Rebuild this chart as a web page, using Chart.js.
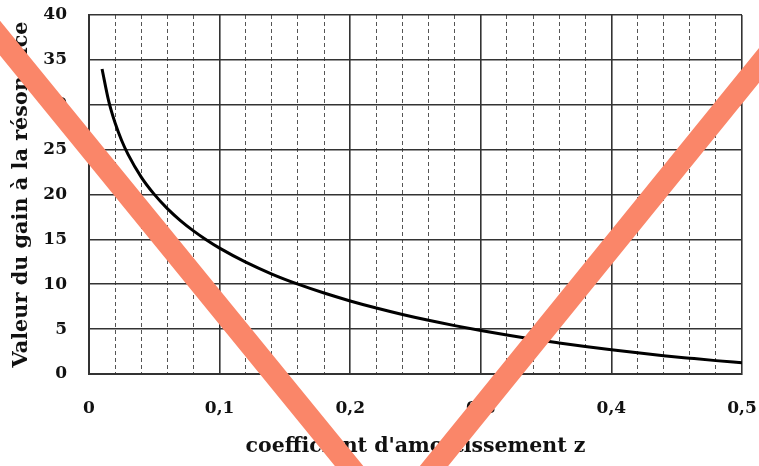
<!DOCTYPE html>
<html>
<head>
<meta charset="utf-8">
<script src="https://cdn.jsdelivr.net/npm/chart.js@4.4.1/dist/chart.umd.min.js"></script>
<style>
  html, body { margin: 0; padding: 0; background: #fff; }
  #wrap { width: 759px; height: 466px; }
</style>
</head>
<body>
<div id="wrap"><canvas id="gainChart"></canvas></div>
<script>
// ── Data ─────────────────────────────────────────────────────
const zValues = [0.01, 0.015, 0.02, 0.025, 0.03, 0.04, 0.05, 0.06, 0.07, 0.08, 0.09, 0.10,
                 0.12, 0.14, 0.16, 0.18, 0.20, 0.22, 0.24, 0.26, 0.28, 0.30,
                 0.32, 0.34, 0.36, 0.38, 0.40, 0.42, 0.44, 0.46, 0.48, 0.50];
const gainValues = [33.98, 30.46, 27.96, 26.02, 24.44, 21.94, 20.01, 18.43, 17.10, 15.95, 14.93, 14.02,
                    12.46, 11.14, 10.01, 9.02, 8.14, 7.35, 6.63, 5.98, 5.39, 4.85,
                    4.35, 3.88, 3.46, 3.06, 2.70, 2.36, 2.04, 1.76, 1.49, 1.25];
const xTickLabels = ['0', '0,1', '0,2', '0,3', '0,4', '0,5'];
const yTickLabels = ['0', '5', '10', '15', '20', '25', '30', '35', '40'];

const FONT = "'DejaVu Serif', serif";
const GRID_DARK = '#333';

// ── helpers ──────────────────────────────────────────────────
function isMajor(v) {
    return Math.abs(v * 10 - Math.round(v * 10)) < 1e-6;
}

// big coral cross drawn over the picture
const crossPlugin = {
    id: 'cross',
    afterDraw(chart) {
        const c = chart.ctx;
        const w = chart.width, h = chart.height;
        c.save();
        c.strokeStyle = '#FA8669';
        c.lineWidth = 22;
        c.lineCap = 'butt';
        c.beginPath();
        c.moveTo(-0.026 * w, 0.03 * h);
        c.lineTo(0.50 * w, 1.08 * h);
        c.moveTo(1.03 * w, 0.08 * h);
        c.lineTo(0.527 * w, 1.09 * h);
        c.stroke();
        c.restore();
    }
};

const ctx = document.getElementById('gainChart').getContext('2d');
new Chart(ctx, {
    type: 'line',
    data: {
        datasets: [{
            data: zValues.map((z, i) => ({ x: z, y: gainValues[i] })),
            borderColor: '#000',
            borderWidth: 3,
            pointRadius: 0,
            fill: false,
            cubicInterpolationMode: 'monotone',
            xAxisID: 'x',
            yAxisID: 'y'
        }]
    },
    options: {
        responsive: true,
        maintainAspectRatio: false,
        animation: false,
        layout: { padding: { top: 15, right: 17, left: 0, bottom: 0 } },
        plugins: { legend: { display: false }, tooltip: { enabled: false } },
        scales: {
            x: {
                type: 'linear',
                position: 'bottom',
                min: 0,
                max: 0.5,
                ticks: {
                    stepSize: 0.1,
                    padding: 24,
                    color: '#111',
                    font: { family: FONT, size: 17, weight: 'bold' },
                    callback: (v) => xTickLabels[Math.round(v * 10)] ?? ''
                },
                grid: { color: GRID_DARK, lineWidth: 1.6, drawTicks: false },
                border: { display: true, color: GRID_DARK, width: 2 },
                title: {
                    display: true,
                    text: "coefficient d'amortissement z",
                    color: '#111',
                    font: { family: FONT, size: 20.5, weight: 'bold' },
                    padding: { top: 0, bottom: 7 }
                },
                afterFit: (s) => {
                    s.height = 92;
                    s.paddingLeft = 0;
                    s.paddingRight = 0;
                }
            },
            xMinor: {
                type: 'linear',
                position: 'bottom',
                min: 0,
                max: 0.5,
                ticks: { display: false, stepSize: 0.02 },
                grid: {
                    drawTicks: false,
                    lineWidth: 1,
                    color: (c) => (c.tick && isMajor(c.tick.value)) ? 'transparent' : '#555'
                },
                border: { display: false, dash: [4, 3] },
                afterFit: (s) => {
                    s.height = 0;
                    s.paddingLeft = 0;
                    s.paddingRight = 0;
                }
            },
            y: {
                type: 'linear',
                min: 0,
                max: 40,
                ticks: {
                    stepSize: 5,
                    padding: 22,
                    color: '#111',
                    font: { family: FONT, size: 17, weight: 'bold' },
                    callback: (v) => yTickLabels[Math.round(v / 5)] ?? ''
                },
                grid: { color: GRID_DARK, lineWidth: 1.6, drawTicks: false },
                border: { display: true, color: GRID_DARK, width: 2 },
                title: {
                    display: true,
                    text: 'Valeur du gain à la résonance',
                    color: '#111',
                    font: { family: FONT, size: 20.8, weight: 'bold' },
                    padding: { top: 9, bottom: 0 }
                },
                afterFit: (s) => {
                    s.width = 89;
                    s.paddingTop = 0;
                    s.paddingBottom = 0;
                }
            }
        }
    },
    plugins: [crossPlugin]
});
</script>
</body>
</html>
